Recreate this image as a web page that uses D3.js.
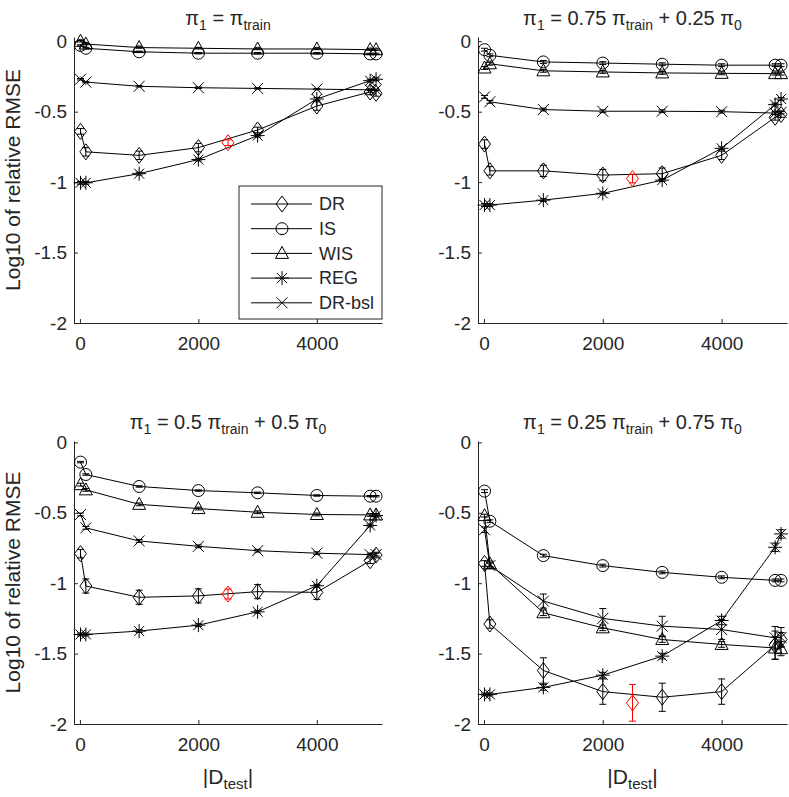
<!DOCTYPE html>
<html>
<head>
<meta charset="utf-8">
<script src="https://cdn.jsdelivr.net/npm/d3@7"></script>
<style>
  body { margin: 0; background: #fff; }
  text { font-family: "Liberation Sans", Arial, Helvetica, sans-serif; fill: #262626; }
</style>
</head>
<body>
<div id="chart"></div>
<script>
// test set sizes |D_test|
var xVals = [10, 100, 1000, 2000, 3000, 4000, 4900, 5000];
var redX = 2500;

var methods = ["DR", "IS", "WIS", "REG", "DR-bsl"];

var titles = [
    "\\pi_1 = \\pi_{train}",
    "\\pi_1 = 0.75 \\pi_{train} + 0.25 \\pi_0",
    "\\pi_1 = 0.5 \\pi_{train} + 0.5 \\pi_0",
    "\\pi_1 = 0.25 \\pi_{train} + 0.75 \\pi_0"
];

var xTicks = [0, 2000, 4000];
var yTicks = [0, -0.5, -1, -1.5, -2];

// one row per panel
var DR = [
    [-0.64, -0.785, -0.81, -0.755, -0.63, -0.46, -0.36, -0.37],
    [-0.73, -0.92, -0.92, -0.95, -0.94, -0.81, -0.54, -0.52],
    [-0.79, -1.02, -1.10, -1.09, -1.06, -1.065, -0.84, -0.80],
    [-0.86, -1.29, -1.62, -1.77, -1.81, -1.77, -1.44, -1.40]
];
var DR_err = [
    [0.02, 0.03, 0.03, 0.03, 0.02, 0.03, 0.02, 0.02],
    [0.03, 0.03, 0.04, 0.04, 0.04, 0.03, 0.02, 0.02],
    [0.03, 0.05, 0.05, 0.05, 0.05, 0.05, 0.02, 0.02],
    [0.02, 0.03, 0.09, 0.09, 0.10, 0.09, 0.10, 0.05]
];
var IS = [
    [-0.03, -0.05, -0.075, -0.085, -0.085, -0.085, -0.09, -0.09],
    [-0.06, -0.10, -0.147, -0.155, -0.163, -0.17, -0.17, -0.17],
    [-0.14, -0.228, -0.313, -0.342, -0.358, -0.377, -0.382, -0.382],
    [-0.346, -0.56, -0.804, -0.875, -0.923, -0.958, -0.98, -0.98]
];
var IS_err = [
    [0.005, 0.005, 0.005, 0.005, 0.005, 0.005, 0.005, 0.005],
    [0.01, 0.01, 0.01, 0.01, 0.01, 0.01, 0.01, 0.01],
    [0.005, 0.005, 0.005, 0.005, 0.005, 0.005, 0.005, 0.005],
    [0.01, 0.01, 0.01, 0.01, 0.01, 0.01, 0.01, 0.01]
];
var WIS = [
    [0.0, -0.02, -0.045, -0.05, -0.055, -0.055, -0.06, -0.06],
    [-0.19, -0.16, -0.21, -0.218, -0.225, -0.228, -0.23, -0.23],
    [-0.30, -0.337, -0.44, -0.47, -0.496, -0.512, -0.515, -0.515],
    [-0.52, -0.863, -1.21, -1.317, -1.40, -1.435, -1.46, -1.465]
];
var WIS_err = [
    [0.005, 0.005, 0.005, 0.005, 0.005, 0.005, 0.005, 0.005],
    [0.01, 0.01, 0.01, 0.01, 0.01, 0.01, 0.01, 0.01],
    [0.01, 0.01, 0.01, 0.01, 0.01, 0.01, 0.01, 0.01],
    [0.01, 0.02, 0.02, 0.02, 0.02, 0.02, 0.08, 0.05]
];
var REG = [
    [-1.005, -1.005, -0.94, -0.84, -0.67, -0.41, -0.28, -0.27],
    [-1.163, -1.163, -1.128, -1.08, -0.986, -0.76, -0.45, -0.41],
    [-1.364, -1.364, -1.34, -1.298, -1.203, -1.018, -0.59, -0.52],
    [-1.79, -1.79, -1.74, -1.653, -1.518, -1.265, -0.745, -0.65]
];
var REG_err = [
    [0.01, 0.01, 0.01, 0.01, 0.01, 0.01, 0.01, 0.01],
    [0.01, 0.01, 0.01, 0.01, 0.01, 0.01, 0.01, 0.01],
    [0.01, 0.01, 0.01, 0.01, 0.01, 0.01, 0.01, 0.01],
    [0.01, 0.01, 0.02, 0.02, 0.02, 0.03, 0.03, 0.03]
];
var BSL = [
    [-0.27, -0.29, -0.32, -0.33, -0.335, -0.34, -0.345, -0.345],
    [-0.395, -0.43, -0.485, -0.497, -0.497, -0.50, -0.51, -0.505],
    [-0.512, -0.607, -0.70, -0.738, -0.769, -0.787, -0.797, -0.797],
    [-0.62, -0.875, -1.127, -1.25, -1.305, -1.329, -1.388, -1.385]
];
var BSL_err = [
    [0.005, 0.005, 0.005, 0.005, 0.005, 0.005, 0.005, 0.005],
    [0.01, 0.01, 0.01, 0.01, 0.01, 0.01, 0.01, 0.01],
    [0.01, 0.01, 0.01, 0.01, 0.01, 0.01, 0.01, 0.01],
    [0.02, 0.02, 0.05, 0.07, 0.07, 0.07, 0.08, 0.07]
];
// highlighted DR point at |D_test| = 2500
var redVals = [-0.72, -0.975, -1.077, -1.85];
var redErr = [0.02, 0.03, 0.035, 0.13];

var seriesVals = [DR, IS, WIS, REG, BSL];
var seriesErr = [DR_err, IS_err, WIS_err, REG_err, BSL_err];

// marker shapes (relative to the point)
var markerShapes = {
    "DR": "M0,-8L6,0L0,8L-6,0Z",
    "IS": "M6,0A6,6,0,1,1,-6,0A6,6,0,1,1,6,0Z",
    "WIS": "M0,-7L6.5,5L-6.5,5Z",
    "REG": "M0,-7V7M-7,0H7M-5,-5L5,5M-5,5L5,-5",
    "DR-bsl": "M-5.5,-5.5L5.5,5.5M-5.5,5.5L5.5,-5.5"
};

var W = 789, H = 797;
var svg = d3.select("#chart").append("svg")
    .attr("width", W)
    .attr("height", H);

var boxes = [
    {l: 74, r: 382, t: 37, b: 323, top: 0.03},
    {l: 478, r: 787, t: 37, b: 323, top: 0.03},
    {l: 74, r: 382, t: 441, b: 724, top: 0.01},
    {l: 478, r: 787, t: 441, b: 724, top: 0.01}
];

// very small TeX-ish parser: \pi and _x / _{xx}
function texParts(s) {
    s = s.replace(/\\pi/g, "\u03c0");
    var parts = [];
    var buf = "";
    for (var i = 0; i < s.length; i++) {
        if (s[i] == "_") {
            if (buf) parts.push({t: buf, sub: false});
            buf = "";
            var sub;
            if (s[i + 1] == "{") {
                var j = s.indexOf("}", i);
                sub = s.slice(i + 2, j);
                i = j;
            } else {
                sub = s[i + 1];
                i++;
            }
            parts.push({t: sub, sub: true});
        } else {
            buf += s[i];
        }
    }
    if (buf) parts.push({t: buf, sub: false});
    return parts;
}

function texText(g, s, x, y, size, subSize, anchor) {
    var t = g.append("text")
        .attr("x", x)
        .attr("y", y)
        .attr("text-anchor", anchor)
        .style("font-size", size + "px");
    var shifted = false;
    texParts(s).forEach(function(p) {
        var sp = t.append("tspan").text(p.t);
        if (p.sub) {
            sp.style("font-size", subSize + "px").attr("dy", shifted ? null : 5);
            shifted = true;
        } else {
            if (shifted) sp.attr("dy", -5);
            shifted = false;
        }
    });
    return t;
}

boxes.forEach(function(box, p) {
    var x = d3.scaleLinear().domain([-100, 5100]).range([box.l, box.r]);
    var y = d3.scaleLinear().domain([-2, box.top]).range([box.b, box.t]);
    var g = svg.append("g");

    // axes
    var xa = g.append("g")
        .attr("transform", "translate(0," + box.b + ")")
        .call(d3.axisBottom(x).tickValues(xTicks).tickSize(-4).tickSizeOuter(0)
            .tickPadding(14).tickFormat(function(d) { return String(d); }));
    var ya = g.append("g")
        .attr("transform", "translate(" + box.l + ",0)")
        .call(d3.axisLeft(y).tickValues(yTicks).tickSize(-4).tickSizeOuter(0)
            .tickPadding(7).tickFormat(function(d) { return String(d); }));
    [xa, ya].forEach(function(a) {
        a.selectAll("path, line").attr("stroke", "#262626").attr("stroke-width", 1);
        a.selectAll("text")
            .style("font-size", "19px")
            .style("font-family", "'Liberation Sans', Arial, sans-serif")
            .attr("fill", "#262626");
    });

    // series
    methods.forEach(function(m, k) {
        var vals = seriesVals[k][p];
        var errs = seriesErr[k][p];
        var pts = xVals.map(function(xv, i) { return {x: xv, v: vals[i], e: errs[i]}; });

        var line = d3.line()
            .x(function(d) { return x(d.x); })
            .y(function(d) { return y(d.v); });
        g.append("path")
            .datum(pts)
            .attr("d", line)
            .attr("fill", "none")
            .attr("stroke", "black")
            .attr("stroke-width", 1);

        var eb = g.selectAll(null).data(pts).enter().append("path")
            .attr("d", function(d) {
                var cx = x(d.x), y1 = y(d.v - d.e), y2 = y(d.v + d.e);
                return "M" + cx + "," + y1 + "V" + y2 +
                    "M" + (cx - 3.5) + "," + y1 + "H" + (cx + 3.5) +
                    "M" + (cx - 3.5) + "," + y2 + "H" + (cx + 3.5);
            })
            .attr("fill", "none")
            .attr("stroke", "black")
            .attr("stroke-width", 1);

        g.selectAll(null).data(pts).enter().append("path")
            .attr("transform", function(d) { return "translate(" + x(d.x) + "," + y(d.v) + ")"; })
            .attr("d", markerShapes[m])
            .attr("fill", "none")
            .attr("stroke", "black")
            .attr("stroke-width", 1);
    });

    // red DR point
    var rx = x(redX), ry1 = y(redVals[p] - redErr[p]), ry2 = y(redVals[p] + redErr[p]);
    g.append("path")
        .attr("d", "M" + rx + "," + ry1 + "V" + ry2 +
            "M" + (rx - 3.5) + "," + ry1 + "H" + (rx + 3.5) +
            "M" + (rx - 3.5) + "," + ry2 + "H" + (rx + 3.5))
        .attr("fill", "none")
        .attr("stroke", "red")
        .attr("stroke-width", 1);
    g.append("path")
        .attr("transform", "translate(" + rx + "," + y(redVals[p]) + ")")
        .attr("d", markerShapes["DR"])
        .attr("fill", "none")
        .attr("stroke", "red")
        .attr("stroke-width", 1);

    // title
    var cx = (box.l + box.r) / 2;
    texText(g, titles[p], cx, box.t - 12, 20, 14, "middle");

    // y label on left column
    if (p % 2 == 0) {
        g.append("text")
            .attr("transform", "translate(20," + ((box.t + box.b) / 2) + ") rotate(-90)")
            .attr("text-anchor", "middle")
            .style("font-size", "21px")
            .text("Log10 of relative RMSE");
    }
    // x label on bottom row
    if (p >= 2) {
        texText(g, "|D_{test}|", cx, box.b + 60, 21, 15, "middle");
    }
});

// legend (top-left panel)
var lg = svg.append("g").attr("transform", "translate(239,186)");
lg.append("rect")
    .attr("width", 143)
    .attr("height", 133)
    .attr("fill", "white")
    .attr("stroke", "#262626")
    .attr("stroke-width", 1);
methods.forEach(function(m, k) {
    var ly = 18 + k * 24.7;
    lg.append("line")
        .attr("x1", 12).attr("x2", 73)
        .attr("y1", ly).attr("y2", ly)
        .attr("stroke", "black");
    lg.append("path")
        .attr("transform", "translate(43," + ly + ")")
        .attr("d", markerShapes[m])
        .attr("fill", "none")
        .attr("stroke", "black");
    lg.append("text")
        .attr("x", 80)
        .attr("y", ly)
        .attr("dy", "0.35em")
        .style("font-size", "18px")
        .text(m);
});
</script>
</body>
</html>
